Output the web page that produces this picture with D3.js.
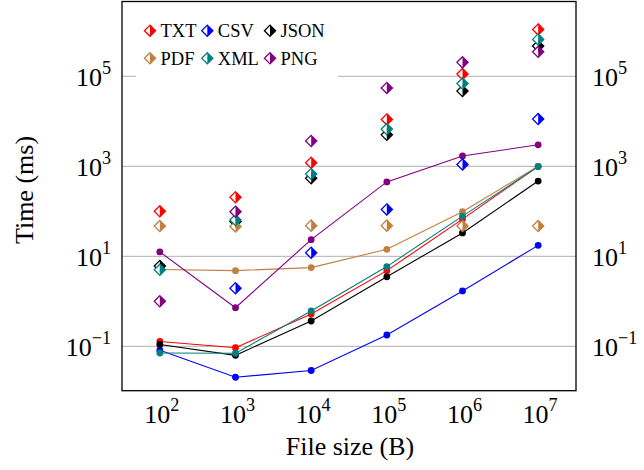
<!DOCTYPE html>
<html>
<head>
<meta charset="utf-8">
<script src="https://cdn.jsdelivr.net/npm/d3@7/dist/d3.min.js"></script>
<style>
  html, body { margin: 0; padding: 0; background: #fff; }
  svg { display: block; }
  text { font-family: "Liberation Serif", "Times New Roman", serif; fill: #000; }
</style>
</head>
<body>
<svg id="chart" width="644" height="470"></svg>
<script>
// ---- data ----
const fileSizes = [1e2, 1e3, 1e4, 1e5, 1e6, 1e7];
const formats = ["TXT", "CSV", "JSON", "PDF", "XML", "PNG"];
const colors = ["#ff0000", "#0000ff", "#000000", "#bf8040", "#008080", "#800080"];

// line series (filled circles)
const lineTXT  = [0.128, 0.093, 0.52, 4.8, 67, 1000];
const lineCSV  = [0.082, 0.0205, 0.029, 0.178, 1.7, 17.5];
const lineJSON = [0.11, 0.063, 0.365, 3.5, 33, 470];
const linePDF  = [5.1, 4.8, 5.6, 14.3, 98, 1000];
const lineXML  = [0.071, 0.07, 0.61, 5.9, 78, 980];
const linePNG  = [12.5, 0.72, 23.4, 450, 1700, 3000];

// diamond series (half-filled diamonds)
const diaTXT  = [100, 205, 1200, 11000, 112000, 1.1e6];
const diaCSV  = [null, 1.95, 12, 110, 1100, 11200];
const diaJSON = [6.1, 59, 540, 5000, 47000, 4.7e5];
const diaPDF  = [47, 46, 48, 48, 47, 47];
const diaXML  = [5, 64, 675, 6700, 69000, 6.6e5];
const diaPNG  = [1, 98, 3650, 55000, 204000, 3.5e5];

const xTickValues = [1e2, 1e3, 1e4, 1e5, 1e6, 1e7];
const xTickExps = ["2", "3", "4", "5", "6", "7"];
const yTickValues = [1e-1, 1e1, 1e3, 1e5];
const yTickExps = ["\u22121", "1", "3", "5"];

const lineData = [lineTXT, lineCSV, lineJSON, linePDF, lineXML, linePNG];
const diaData = [diaTXT, diaCSV, diaJSON, diaPDF, diaXML, diaPNG];

// ---- layout ----
const L = 122, R = 576, T = 1.5, B = 390.7;
const svg = d3.select("#chart");

const x = d3.scaleLog().domain([Math.pow(10, 1.5), Math.pow(10, 7.5)]).range([L, R]);
const y = d3.scaleLog().domain([Math.pow(10, -1.987), Math.pow(10, 6.662)]).range([B, T]);

// grid lines
svg.append("g").selectAll("line").data(yTickValues).join("line")
  .attr("x1", L).attr("x2", R)
  .attr("y1", d => y(d)).attr("y2", d => y(d))
  .attr("stroke", "#bfbfbf").attr("stroke-width", 1.2);

// legend background (drawn later on top), plot content clipped
svg.append("defs").append("clipPath").attr("id", "clip")
  .append("rect").attr("x", L).attr("y", T).attr("width", R - L).attr("height", B - T);

const plot = svg.append("g").attr("clip-path", "url(#clip)");

const line = d3.line()
  .defined(d => d[1] != null)
  .x(d => x(d[0])).y(d => y(d[1]));

lineData.forEach((vals, i) => {
  const pts = fileSizes.map((s, j) => [s, vals[j]]);
  plot.append("path").datum(pts)
    .attr("d", line)
    .attr("fill", "none")
    .attr("stroke", colors[i])
    .attr("stroke-width", 1.1);
  plot.append("g").selectAll("circle").data(pts).join("circle")
    .attr("cx", d => x(d[0])).attr("cy", d => y(d[1]))
    .attr("r", 3.4).attr("fill", colors[i]);
});

// half-filled diamond
const dw = 5.6, dh = 5.6;
function diamond(g, cx, cy, color) {
  g.append("path")
    .attr("d", `M${cx},${cy - dh} L${cx - dw},${cy} L${cx},${cy + dh} Z`)
    .attr("fill", "#fff");
  g.append("path")
    .attr("d", `M${cx},${cy - dh} L${cx + dw},${cy} L${cx},${cy + dh} Z`)
    .attr("fill", color);
  g.append("path")
    .attr("d", `M${cx},${cy - dh} L${cx + dw},${cy} L${cx},${cy + dh} L${cx - dw},${cy} Z`)
    .attr("fill", "none").attr("stroke", color).attr("stroke-width", 1.3)
    .attr("stroke-linejoin", "miter");
}

diaData.forEach((vals, i) => {
  const g = plot.append("g");
  fileSizes.forEach((s, j) => {
    if (vals[j] == null) return;
    diamond(g, x(s), y(vals[j]), colors[i]);
  });
});

// legend
const leg = svg.append("g");
leg.append("rect").attr("x", 136).attr("y", 12).attr("width", 202).attr("height", 67).attr("fill", "#fff");
const colX = [150, 207.3, 270];
const rowY = [30.7, 58.3];
formats.forEach((f, i) => {
  const cx = colX[i % 3], cy = rowY[Math.floor(i / 3)];
  diamond(leg, cx, cy, colors[i]);
  leg.append("text").attr("x", cx + 10.5).attr("y", cy + 6.3)
    .attr("font-size", 18.5).text(f);
});

// axis box
svg.append("rect").attr("x", L).attr("y", T).attr("width", R - L).attr("height", B - T)
  .attr("fill", "none").attr("stroke", "#000").attr("stroke-width", 1.3);

// tick labels
function powLabel(sel, exp, size) {
  sel.append("tspan").text("10");
  sel.append("tspan").attr("dy", -0.45 * size).attr("font-size", size * 0.7).text(exp);
}
const tickSize = 26;
xTickValues.forEach((v, i) => {
  const t = svg.append("text").attr("x", x(v) + 2).attr("y", 423)
    .attr("text-anchor", "middle").attr("font-size", tickSize);
  powLabel(t, xTickExps[i], tickSize);
});
yTickValues.forEach((v, i) => {
  const tl = svg.append("text").attr("x", 111).attr("y", y(v) + 9.5)
    .attr("text-anchor", "end").attr("font-size", tickSize);
  powLabel(tl, yTickExps[i], tickSize);
  const tr = svg.append("text").attr("x", 592).attr("y", y(v) + 9.5)
    .attr("text-anchor", "start").attr("font-size", tickSize);
  powLabel(tr, yTickExps[i], tickSize);
});

// axis titles
svg.append("text").attr("x", 350).attr("y", 455).attr("text-anchor", "middle")
  .attr("font-size", 26).text("File size (B)");
svg.append("text").attr("transform", "translate(33,190) rotate(-90)")
  .attr("text-anchor", "middle").attr("font-size", 26).text("Time (ms)");
</script>
</body>
</html>
